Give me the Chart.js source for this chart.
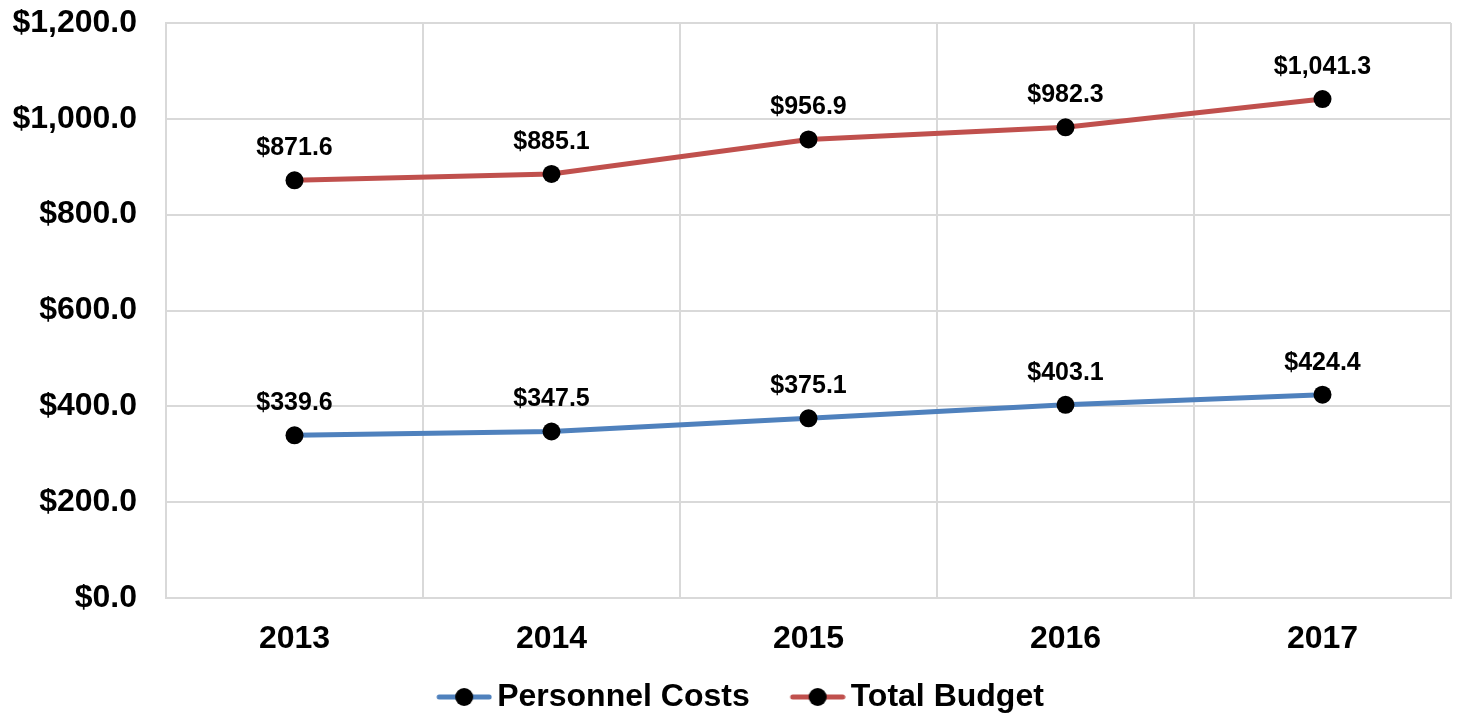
<!DOCTYPE html>
<html>
<head>
<meta charset="utf-8">
<script src="https://cdn.jsdelivr.net/npm/chart.js@4/dist/chart.umd.min.js"></script>
<style>
html,body{margin:0;padding:0;background:#fff;}
#wrap{width:1460px;height:714px;}
</style>
</head>
<body>
<div id="wrap"><canvas id="c" width="1460" height="714"></canvas></div>
<script>
const categories = ['2013', '2014', '2015', '2016', '2017'];
const personnelCosts = [339.6, 347.5, 375.1, 403.1, 424.4];
const totalBudget = [871.6, 885.1, 956.9, 982.3, 1041.3];
const seriesNames = ['Personnel Costs', 'Total Budget'];
const yTicks = [0, 200, 400, 600, 800, 1000, 1200];

const FONT = "'Liberation Sans', Arial, sans-serif";
const BLUE = '#4F81BD';
const RED = '#C0504D';
const LEGEND_BOX = 81;

function money(v) {
  return '$' + Number(v).toLocaleString('en-US', {minimumFractionDigits: 1, maximumFractionDigits: 1});
}

function legendImage(color) {
  const W = LEGEND_BOX + 22, H = 22;
  const c = document.createElement('canvas');
  c.width = W; c.height = H;
  const g = c.getContext('2d');
  g.strokeStyle = color;
  g.lineWidth = 5;
  g.lineCap = 'round';
  g.beginPath();
  g.moveTo(W - 56 + 3, H / 2);
  g.lineTo(W - 3, H / 2);
  g.stroke();
  g.fillStyle = '#000';
  g.beginPath();
  g.arc(W - 28, H / 2, 9, 0, Math.PI * 2);
  g.fill();
  return c;
}

const helperPlugin = {
  id: 'helperPlugin',
  beforeUpdate(chart) {
    const lg = chart.legend;
    if (lg && !lg._patched) {
      const orig = lg.fit;
      lg.fit = function () { orig.call(this); this.height -= 10; };
      lg._patched = true;
    }
  },
  afterLayout(chart) {
    const lg = chart.legend;
    if (lg) { lg.left -= 5; lg.right -= 5; }
  },
  afterDatasetsDraw(chart) {
    const ctx = chart.ctx;
    ctx.save();
    ctx.font = "bold 25px " + FONT;
    ctx.fillStyle = '#000';
    ctx.textAlign = 'center';
    ctx.textBaseline = 'alphabetic';
    chart.data.datasets.forEach((ds, i) => {
      const meta = chart.getDatasetMeta(i);
      meta.data.forEach((pt, j) => {
        ctx.fillText(money(ds.data[j]), pt.x, pt.y - 25);
      });
    });
    ctx.restore();
  }
};

const imgs = [legendImage(BLUE), legendImage(RED)];

new Chart(document.getElementById('c'), {
  type: 'line',
  data: {
    labels: categories,
    datasets: [
      {label: seriesNames[0], data: personnelCosts, borderColor: BLUE, backgroundColor: BLUE, borderWidth: 5,
       pointRadius: 9, pointHoverRadius: 9, pointBackgroundColor: '#000', pointBorderWidth: 0, tension: 0, pointStyle: 'circle'},
      {label: seriesNames[1], data: totalBudget, borderColor: RED, backgroundColor: RED, borderWidth: 5,
       pointRadius: 9, pointHoverRadius: 9, pointBackgroundColor: '#000', pointBorderWidth: 0, tension: 0, pointStyle: 'circle'}
    ]
  },
  options: {
    responsive: false,
    animation: false,
    devicePixelRatio: 1,
    layout: {padding: {left: 0, right: 6, top: 23, bottom: 1}},
    plugins: {
      tooltip: {enabled: false},
      legend: {
        position: 'bottom',
        labels: {
          usePointStyle: true,
          pointStyleWidth: LEGEND_BOX,
          padding: 4,
          color: '#000',
          font: {family: FONT, size: 32, weight: 'bold'},
          generateLabels(chart) {
            return chart.data.datasets.map((ds, i) => ({
              text: ds.label,
              pointStyle: imgs[i],
              fillStyle: ds.borderColor,
              strokeStyle: ds.borderColor,
              lineWidth: 0,
              hidden: false,
              datasetIndex: i,
              fontColor: '#000'
            }));
          }
        }
      }
    },
    scales: {
      x: {
        offset: true,
        grid: {offset: true, color: '#d9d9d9', lineWidth: 2, drawTicks: false, tickLength: 0},
        border: {color: '#d9d9d9', width: 2},
        ticks: {color: '#000', padding: 22, font: {family: FONT, size: 32, weight: 'bold'}, maxRotation: 0},
        afterFit(scale) { scale.height = 79; scale.paddingLeft = 0; scale.paddingRight = 0; }
      },
      y: {
        min: 0, max: 1200,
        grid: {color: '#d9d9d9', lineWidth: 2, drawTicks: false, tickLength: 0},
        border: {color: '#d9d9d9', width: 2},
        afterBuildTicks(scale) { scale.ticks = yTicks.map(v => ({value: v})); },
        ticks: {color: '#000', padding: 29, font: {family: FONT, size: 32, weight: 'bold'},
                callback: (v) => money(v)},
        afterFit(scale) { scale.width = 166; scale.paddingTop = 0; scale.paddingBottom = 0; }
      }
    }
  },
  plugins: [helperPlugin]
});
</script>
</body>
</html>
